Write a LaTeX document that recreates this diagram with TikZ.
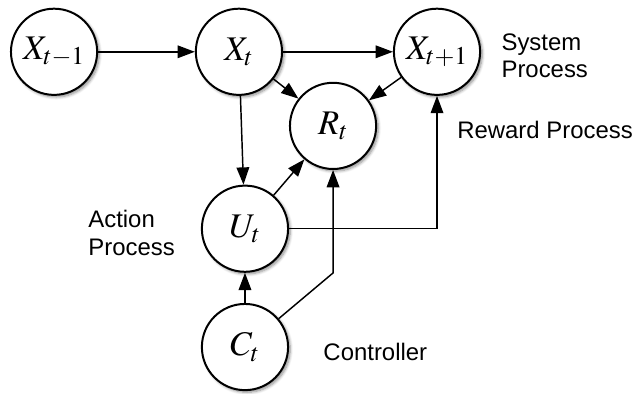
\documentclass[tikz,border=0pt]{standalone}
\usepackage{mathptmx}
\usepackage{fontspec}
\setmainfont{Liberation Sans}
\usetikzlibrary{arrows.meta,shadows.blur}

\begin{document}
\begin{tikzpicture}[
    state/.style={draw, circle, line width=1.5pt, fill=white, minimum size=2.28cm, inner sep=0pt,
        font=\fontsize{26}{30}\selectfont,
        blur shadow={shadow xshift=1.6pt, shadow yshift=-1.6pt, shadow blur steps=6, shadow opacity=45}},
    caption/.style={anchor=west, align=left, inner sep=0pt, font=\fontsize{18}{20.5}\selectfont},
    link/.style={line width=1.1pt, -{Triangle[length=13pt, width=9.5pt]}}
]
    \useasboundingbox (0,0) rectangle (16.85,10.42);

    % Top row: system process
    \node[state] (xprev) at (1.43,9.05) {$X_{t-1}$};
    \node[state] (xnow) at (6.32,9.05) {$X_t$};
    \node[state] (xnext) at (11.56,9.05) {$X_{t+1}$};
    \node[caption] (syslabel) at (13.26,8.94) {System\\Process};

    % Reward, action and controller
    \node[state] (reward) at (8.81,7.09) {$R_t$};
    \node[caption] (rewlabel) at (12.09,6.99) {Reward Process};
    \node[state] (action) at (6.48,4.37) {$U_t$};
    \node[caption] (actlabel) at (2.33,4.26) {Action\\Process};
    \node[state] (ctrl) at (6.48,1.24) {$C_t$};
    \node[caption] (ctrllabel) at (8.55,1.11) {Controller};
    \coordinate (ctrlbend) at (8.81,3.20);

    % Arrows
    \draw[link] (xprev) -- (xnow);
    \draw[link] (xnow) -- (xnext);
    \draw[link] (xnow) -- (reward);
    \draw[link] (xnext) -- (reward);
    \draw[link] (xnow) -- (action);
    \draw[link] (action) -- (reward);
    \draw[link] (action) -| (xnext);
    \draw[link] (ctrl) -- (ctrlbend) -- (reward);
    \draw[link] (ctrl) -- (action);
\end{tikzpicture}
\end{document}
